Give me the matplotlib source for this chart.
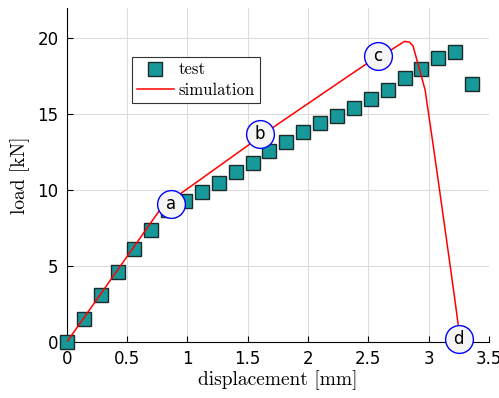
# plot.py
# load-displacement curve: test points vs simulation

import matplotlib
matplotlib.use('Agg')
import matplotlib.pyplot as plt

# ── DATA ─────────────────────────────────────────────
test_disp = [0.00, 0.14, 0.28, 0.42, 0.56, 0.70, 0.84, 0.98, 1.12, 1.26,
             1.40, 1.54, 1.68, 1.82, 1.96, 2.10, 2.24, 2.38, 2.52, 2.66,
             2.80, 2.94, 3.08, 3.22, 3.36]
test_load = [0.0, 1.5, 3.1, 4.6, 6.1, 7.4, 8.7, 9.3, 9.9, 10.5,
             11.2, 11.8, 12.6, 13.2, 13.8, 14.4, 14.9, 15.4, 16.0, 16.6,
             17.4, 18.0, 18.7, 19.1, 17.0]

sim_disp = [0.00, 0.78, 0.88, 0.96, 1.74, 2.35, 2.49, 2.62, 2.70, 2.80,
            2.84, 2.87, 2.91, 2.97, 3.04, 3.09, 3.18, 3.22, 3.245]
sim_load = [0.0, 8.8, 9.4, 9.87, 14.3, 17.6, 18.35, 18.9, 19.3, 19.8,
            19.75, 19.5, 18.35, 16.6, 12.8, 10.0, 4.9, 2.6, 1.1]

point_labels = ['a', 'b', 'c', 'd']
point_disp = [0.862, 1.600, 2.579, 3.250]
point_load = [9.08, 13.68, 18.82, 0.20]

# ── FIGURE ───────────────────────────────────────────
fig = plt.figure(figsize=(4.99, 3.98), dpi=100)
ax = fig.add_axes([0.134, 0.1407, 0.846, 0.8393])

ax.plot(test_disp, test_load, linestyle='none', marker='s', markersize=10,
        markerfacecolor='#17999a', markeredgecolor='#1c2a2a',
        markeredgewidth=1.0, label='test', clip_on=False, zorder=3)
ax.plot(sim_disp, sim_load, color='red', linewidth=1.1,
        label='simulation', zorder=4)

# circled markers a-d
ax.scatter(point_disp, point_load, s=400, facecolor='#f5f5f5',
           edgecolor='blue', linewidth=1.0, clip_on=False, zorder=5)
for lab, x, y in zip(point_labels, point_disp, point_load):
    ax.text(x, y, lab, ha='center', va='center', fontsize=12,
            zorder=6, clip_on=False)

ax.set_xlim(0, 3.5)
ax.set_ylim(0, 22)
ax.set_xticks([0, 0.5, 1, 1.5, 2, 2.5, 3, 3.5])
ax.set_xticklabels(['0', '0.5', '1', '1.5', '2', '2.5', '3', '3.5'])
ax.set_yticks([0, 5, 10, 15, 20])

ax.grid(True, color='#dcdcdc', linewidth=0.8)
ax.set_axisbelow(True)
ax.spines['top'].set_visible(False)
ax.spines['right'].set_visible(False)
ax.tick_params(direction='in', labelsize=12, length=4, pad=6)

ax.set_xlabel('displacement [mm]', fontfamily='cmr10', fontsize=14, labelpad=1)
ax.set_ylabel('load [kN]', fontfamily='cmr10', fontsize=14, labelpad=5)

leg = ax.legend(loc='upper left', bbox_to_anchor=(0.154, 0.853),
                prop={'family': 'cmr10', 'size': 12}, fancybox=False,
                edgecolor='#333333', framealpha=1, borderpad=0.3,
                handlelength=2.2, labelspacing=0.3, borderaxespad=0,
                handletextpad=0.3)
leg.get_frame().set_linewidth(0.8)

plt.savefig('out.png', dpi=100)
